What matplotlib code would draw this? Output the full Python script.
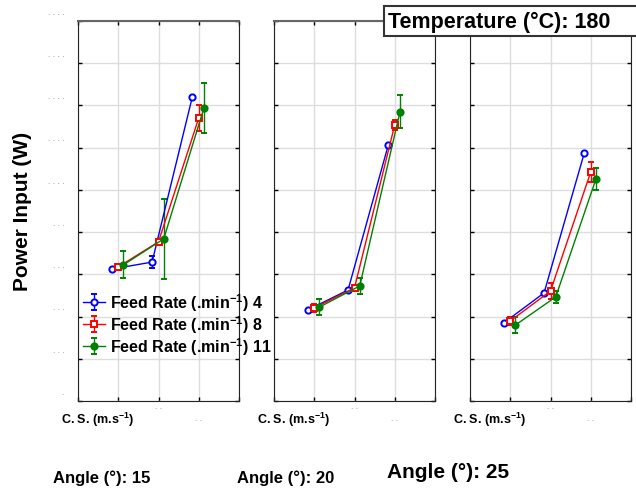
import matplotlib
matplotlib.use("Agg")
import matplotlib.pyplot as plt
from matplotlib.patches import Rectangle
from matplotlib.transforms import ScaledTranslation

plt.rcParams['font.family'] = ['Liberation Sans', 'DejaVu Sans']
plt.rcParams['mathtext.fontset'] = 'custom'
plt.rcParams['mathtext.rm'] = 'Liberation Sans'
plt.rcParams['mathtext.bf'] = 'Liberation Sans:bold'

# cutting speed positions (grid units) and power input (W) per angle
speeds = [1, 2, 3]
angles = [15, 20, 25]
feed_rates = [4, 8, 11]

power = {
    15: {4: [625, 658, 1440], 8: [635, 754, 1341], 11: [645, 768, 1389]},
    20: {4: [431, 526, 1213], 8: [441, 536, 1308], 11: [445, 545, 1370]},
    25: {4: [370, 512, 1175], 8: [379, 521, 1085], 11: [360, 493, 1052]},
}
errors = {
    15: {4: [0, 28, 0], 8: [15, 15, 60], 11: [64, 190, 118]},
    20: {4: [0, 0, 0], 8: [20, 15, 24], 11: [38, 37, 79]},
    25: {4: [0, 0, 0], 8: [18, 36, 47], 11: [36, 28, 51]},
}

y_ticks = list(range(0, 2000, 200))
# the original tick labels render only as dots, one per digit
y_tick_labels = ['. ' * len(str(v)) for v in y_ticks]

series_style = {
    4: dict(color='blue', marker='o', mfc='white', shift=-0.16),
    8: dict(color='red', marker='s', mfc='white', shift=0.0),
    11: dict(color='green', marker='o', mfc='green', shift=0.13),
}

W, H = 636, 489
fig = plt.figure(figsize=(W / 100, H / 100), dpi=100)

lefts = [78, 274, 470]
handles = []
for i, ang in enumerate(angles):
    ax = fig.add_axes([lefts[i] / W, (H - 402) / H, 161 / W, 380 / H])
    for fr in feed_rates:
        st = series_style[fr]
        xs = [s + st['shift'] for s in speeds]
        h = ax.errorbar(xs, power[ang][fr], yerr=errors[ang][fr],
                        color=st['color'], marker=st['marker'], mfc=st['mfc'],
                        mec=st['color'], ms=4.5, mew=1.4, lw=1,
                        elinewidth=1, capsize=2,
                        label='Feed Rate (.min$^{\\mathbf{-1}}$) %d' % fr)
        if i == 0:
            handles.append(h)
    ax.set_xlim(0, 4)
    ax.set_ylim(0, 1800)
    ax.set_xticks([0, 1, 2, 3, 4])
    ax.set_xticklabels([])
    ax.set_yticks(y_ticks)
    ax.grid(True, color='#dddddd', lw=1)
    ax.set_axisbelow(True)
    ax.tick_params(direction='in', length=3, top=True, right=True, width=1)
    for sp in ax.spines.values():
        sp.set_color('#222222')
    ax.spines['top'].set_color('#666666')
    ax.spines['top'].set_linewidth(1.5)
    if i == 0:
        ax.set_yticklabels(y_tick_labels, fontsize=6, color='#888888')
        ax.tick_params(axis='y', pad=8)
        for lbl in ax.get_yticklabels():
            lbl.set_transform(lbl.get_transform() +
                              ScaledTranslation(0, 7 / 72, fig.dpi_scale_trans))
    else:
        ax.set_yticklabels([])
    ax.text(0.12, -0.022, 'C. S. (m.s$^{\\mathbf{-1}}$)', transform=ax.transAxes,
            ha='center', va='top', fontsize=9, fontweight='bold')
    ax.text(0.5, -0.005, '. .', transform=ax.transAxes, ha='center', va='top',
            fontsize=6, color='#888888')
    ax.text(0.75, -0.037, '. .', transform=ax.transAxes, ha='center', va='top',
            fontsize=6, color='#888888')

fig.text(23 / W, 1 - 211 / H, 'Power Input (W)', rotation=90, ha='center',
         va='center', fontsize=15, fontweight='bold')

fig.legend(handles=handles, loc='upper left',
           bbox_to_anchor=(83 / W, 1 - 292 / H), frameon=False,
           prop={'size': 11.5, 'weight': 'bold'}, handlelength=1.4,
           handletextpad=0.3, labelspacing=0.02, borderpad=0, borderaxespad=0)

fig.patches.append(Rectangle((384 / W, 1 - 37 / H), 260 / W, 30 / H,
                             transform=fig.transFigure, facecolor='white',
                             edgecolor='#333333', lw=1.5, zorder=5))
fig.text(388 / W, 1 - 22 / H, 'Temperature (°C): 180', ha='left', va='center',
         fontsize=15.5, fontweight='bold', zorder=6)

fig.text(102 / W, 1 - 478 / H, 'Angle (°): 15', ha='center', va='center',
         fontsize=12, fontweight='bold')
fig.text(286 / W, 1 - 478 / H, 'Angle (°): 20', ha='center', va='center',
         fontsize=12, fontweight='bold')
fig.text(448 / W, 1 - 472 / H, 'Angle (°): 25', ha='center', va='center',
         fontsize=15, fontweight='bold')

fig.savefig('out.png', dpi=100)
